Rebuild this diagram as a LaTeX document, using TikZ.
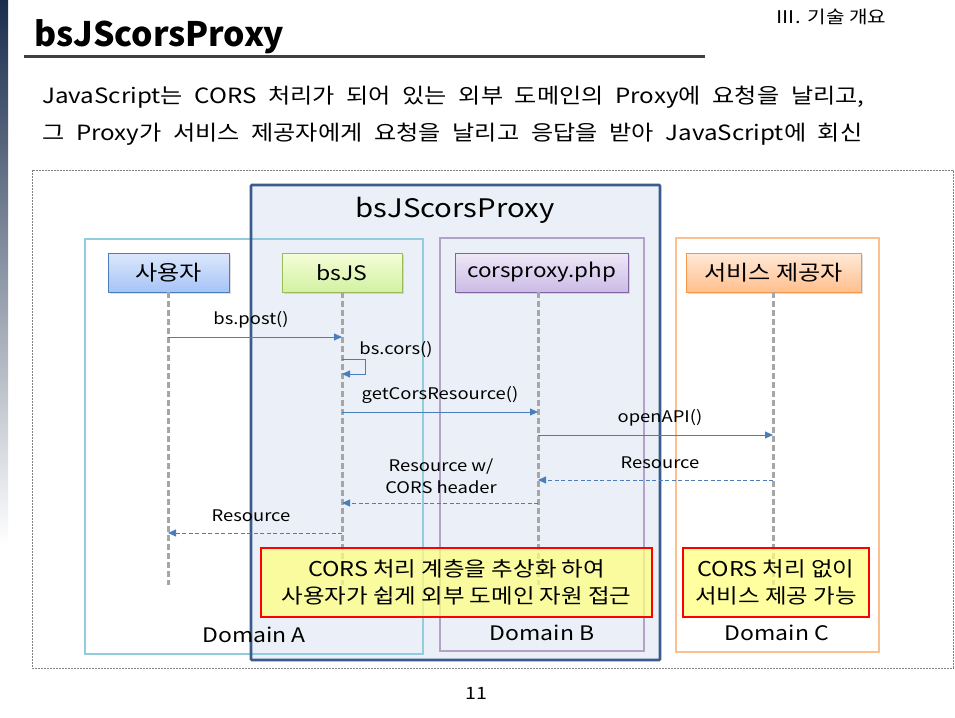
\documentclass[tikz,border=0pt]{standalone}
\usepackage{fontspec}
\setmainfont[FakeStretch=1.15]{Noto Sans CJK KR}
\newfontfamily\plainkr{Noto Sans CJK KR}
\usetikzlibrary{arrows.meta,shadows}
\definecolor{navy}{HTML}{385D8A}
\definecolor{proxyfill}{HTML}{EBF0F8}
\definecolor{domA}{HTML}{93CDDD}
\definecolor{domB}{HTML}{B3A2C7}
\definecolor{domC}{HTML}{FAC090}
\definecolor{msgc}{HTML}{4A7EBB}
\definecolor{lifec}{HTML}{A6A6A6}
\definecolor{barTop}{HTML}{1A2D4C}
\definecolor{barMid}{HTML}{2F5D92}
\definecolor{userTop}{HTML}{DCE7FC}
\definecolor{userBot}{HTML}{A6C4F7}
\definecolor{jsTop}{HTML}{F5FDD8}
\definecolor{jsBot}{HTML}{D2F2A2}
\definecolor{jsBorder}{HTML}{9BBB59}
\definecolor{pxTop}{HTML}{EEE8F7}
\definecolor{pxBot}{HTML}{CBBBE6}
\definecolor{pxBorder}{HTML}{8064A2}
\definecolor{svTop}{HTML}{FFE9D8}
\definecolor{svBot}{HTML}{FFBF8C}
\definecolor{svBorder}{HTML}{F79646}
\definecolor{noteFill}{HTML}{FFFF80}
\newcommand\bodyfont{\fontsize{21}{24}\selectfont\spaceskip=11.7pt plus 1pt\relax}
\begin{document}
\begin{tikzpicture}[x=1pt,y=-1pt,
  actor/.style={draw, line width=0.9pt, minimum width=#1, minimum height=39pt, inner sep=0pt,
     font=\fontsize{21}{24}\selectfont, drop shadow={opacity=0.25,shadow xshift=1.5pt,shadow yshift=-1.5pt}},
  domainbox/.style={draw=#1, line width=2.6pt},
  life/.style={draw=lifec, line width=3pt, dash pattern=on 6pt off 3pt},
  msg/.style={draw=msgc, line width=0.9pt, -{Triangle[width=7pt,length=8pt]}},
  ret/.style={msg, dash pattern=on 4pt off 2.5pt},
  lbl/.style={font=\fontsize{16}{19}\selectfont, inner sep=0pt},
  dlbl/.style={font=\fontsize{20}{24}\selectfont, inner sep=0pt},
  note/.style={draw=red, line width=2.6pt, fill=noteFill, fill opacity=0.75, text opacity=1,
     align=center, font=\fontsize{20.4}{27}\selectfont, inner sep=0pt},
  body/.style={anchor=base west, inner sep=0pt}
]
\useasboundingbox (0,0) rectangle (955,717);
\fill[white] (0,0) rectangle (955,717);
% left gradient bar
\shade[top color=barTop, middle color=barMid, bottom color=white] (0,0) rectangle (8,545);
% header
\node[anchor=base west, inner sep=0pt, font=\plainkr\fontsize{33.7}{36}\selectfont\bfseries] (title) at (34,47) {bsJScorsProxy};
\draw[line width=3pt, black!75] (24,57) -- (705,57);
\node[anchor=center, inner sep=0pt, font=\fontsize{17.5}{19}\selectfont] (sect) at (831,17) {Ⅲ. 기술 개요};
\node[body] (l1) at (42,103) {\bodyfont JavaScript는 CORS 처리가 되어 있는 외부 도메인의 Proxy에 요청을 날리고,};
\node[body] (l2) at (42,140) {\bodyfont 그 Proxy가 서비스 제공자에게 요청을 날리고 응답을 받아 JavaScript에 회신};
% outer dashed frame
\draw[black!50, line width=0.7pt, dash pattern=on 2pt off 1pt] (32,170) rectangle (953,668);
% proxy box fill
\fill[proxyfill] (251,185) rectangle (660,660);
% domain boxes
\draw[domainbox=domA] (85,239) rectangle (423,654);
\draw[domainbox=domB] (440,238) rectangle (644,651);
\draw[domainbox=domC] (676,238) rectangle (879,652);
\draw[navy, line width=2.6pt, rounded corners=1pt] (251,185) rectangle (660,660);
\node[inner sep=0pt, font=\fontsize{25.5}{30}\selectfont] (ptitle) at (455,210) {bsJScorsProxy};
% actors
\node[actor=121pt, draw=msgc, top color=userTop, bottom color=userBot] (user) at (168.5,272.5) {사용자};
\node[actor=120pt, draw=jsBorder, top color=jsTop, bottom color=jsBot, font=\fontsize{20}{24}\selectfont] (bsjs) at (342,272.5) {bsJS};
\node[actor=173pt, draw=pxBorder, top color=pxTop, bottom color=pxBot, font=\fontsize{19.5}{24}\selectfont] (proxy) at (541.5,272.5) {corsproxy.php};
\node[actor=175pt, draw=svBorder, top color=svTop, bottom color=svBot] (svc) at (773.5,272.5) {서비스 제공자};
% lifelines
\coordinate (uE) at (168,585);
\coordinate (jE) at (342,585);
\coordinate (pE) at (538,585);
\coordinate (sE) at (773,585);
\draw[life] (user.south -| uE) -- (uE);
\draw[life] (bsjs.south -| jE) -- (jE);
\draw[life] (proxy.south -| pE) -- (pE);
\draw[life] (svc.south -| sE) -- (sE);
% message points
\coordinate (u1) at (168,337); \coordinate (j1) at (342,337);
\coordinate (j2) at (342,359); \coordinate (j3) at (342,374);
\coordinate (j4) at (342,412); \coordinate (p4) at (538,412);
\coordinate (p5) at (538,435); \coordinate (s5) at (773,435);
\coordinate (s6) at (773,480); \coordinate (p6) at (538,480);
\coordinate (p7) at (538,503); \coordinate (j7) at (342,503);
\coordinate (j8) at (342,533); \coordinate (u8) at (168,533);
\draw[msg] (u1) -- (j1);
\draw[msg] (j2) -- ++(23,0) |- (j3);
\draw[msg] (j4) -- (p4);
\draw[msg] (p5) -- (s5);
\draw[ret] (s6) -- (p6);
\draw[ret] (p7) -- (j7);
\draw[ret] (j8) -- (u8);
% labels
\node[lbl] (m1) at (251,320) {bs.post()};
\node[lbl] (m2) at (396,350) {bs.cors()};
\node[lbl] (m3) at (440,395) {getCorsResource()};
\node[lbl] (m4) at (660,418) {openAPI()};
\node[lbl] (m5) at (660,463) {Resource};
\node[lbl, align=center, font=\fontsize{16}{22}\selectfont] (m6) at (441,476) {Resource w/\\CORS header};
\node[lbl] (m7) at (251,516) {Resource};
% notes
\node[note, minimum width=391pt, minimum height=69pt] (n1) at (456.5,582.5) {CORS 처리 계층을 추상화 하여\\사용자가 쉽게 외부 도메인 자원 접근};
\node[note, minimum width=186pt, minimum height=69pt] (n2) at (776,582.5) {CORS 처리 없이\\서비스 제공 가능};
% domain labels
\node[dlbl] (dA) at (254,635) {Domain A};
\node[dlbl] (dB) at (542,633) {Domain B};
\node[dlbl] (dC) at (777,633) {Domain C};
\node[inner sep=0pt, font=\fontsize{17}{19}\selectfont] (pg) at (476,693) {11};
\end{tikzpicture}
\end{document}
